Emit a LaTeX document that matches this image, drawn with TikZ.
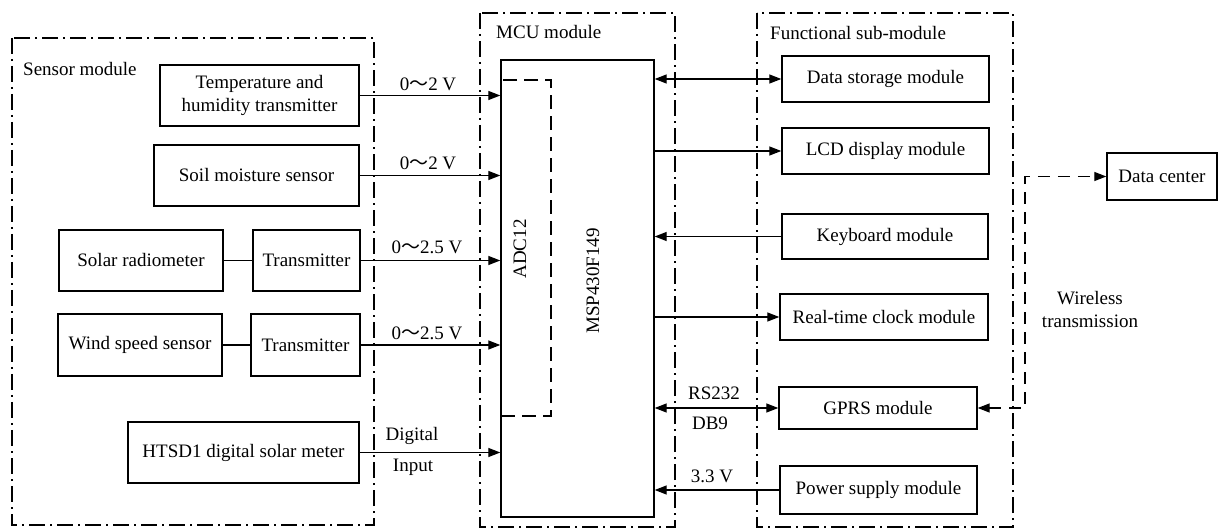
\documentclass[tikz,border=0pt]{standalone}
\usepackage{fontspec}
\setmainfont{Liberation Serif}
\newfontfamily\cjk{Noto Sans CJK SC}
\usetikzlibrary{arrows.meta}
\newcommand{\wv}{{\cjk ～}}
\begin{document}
\begin{tikzpicture}[x=1pt,y=-1pt,
  font=\fontsize{19}{23}\selectfont,
  box/.style={draw,line width=1.4pt,inner sep=0pt,align=center},
  frame/.style={line width=1.8pt,dash pattern=on 16pt off 5pt on 2pt off 5pt},
  conn/.style={line width=1.3pt},
  arr/.style={conn,-{Triangle[length=12pt,width=9pt]}},
  darr/.style={conn,{Triangle[length=12pt,width=9pt]}-{Triangle[length=12pt,width=9pt]}},
  lbl/.style={inner sep=0pt}]
\useasboundingbox (0,0) rectangle (1219,529);
% frames
\draw[frame] (12,38) rectangle (374,525);
\draw[frame] (480,13) rectangle (675,527);
\draw[frame] (757,13) rectangle (1013,527);
\node[lbl,anchor=west] (tsens) at (23,69) {Sensor module};
\node[lbl,anchor=west] (tmcu) at (496,32) {MCU module};
\node[lbl,anchor=west] (tfun) at (770,33) {Functional sub-module};
% sensor boxes
\node[box,minimum width=199pt,minimum height=61pt] (temp) at (259.5,95.5) {Temperature and\\humidity transmitter};
\node[box,minimum width=205pt,minimum height=61pt] (soil) at (256.5,175.5) {Soil moisture sensor};
\node[box,minimum width=164pt,minimum height=61pt] (solar) at (141,260.5) {Solar radiometer};
\node[box,minimum width=107pt,minimum height=61pt] (tr1) at (306.5,260.5) {Transmitter};
\node[box,minimum width=164pt,minimum height=62pt] (wind) at (140,345) {Wind speed sensor};
\node[box,minimum width=109pt,minimum height=62pt] (tr2) at (305.5,345) {Transmitter};
\node[box,minimum width=231pt,minimum height=61pt] (htsd) at (243.5,452.5) {HTSD1 digital solar meter};
% MCU
\node[box,minimum width=153pt,minimum height=457pt] (msp) at (577.5,288.5) {};
\node[draw,line width=1.4pt,dash pattern=on 14pt off 7pt,minimum width=50pt,minimum height=336pt,inner sep=0pt] (adc) at (526,248) {};
\node[lbl,rotate=90] (tadc) at (520,249) {ADC12};
\node[lbl,rotate=90] (tmsp) at (593,281) {MSP430F149};
% functional boxes
\node[box,minimum width=207pt,minimum height=46pt] (ds) at (885.5,79) {Data storage module};
\node[box,minimum width=207pt,minimum height=46pt] (lcd) at (885.5,151) {LCD display module};
\node[box,minimum width=206pt,minimum height=45pt] (kb) at (885,236.5) {Keyboard module};
\node[box,minimum width=208pt,minimum height=46pt] (rtc) at (884,317) {Real-time clock module};
\node[box,minimum width=198pt,minimum height=42pt] (gprs) at (878,408) {GPRS module};
\node[box,minimum width=197pt,minimum height=48pt] (pwr) at (878.5,490) {Power supply module};
\node[box,minimum width=110pt,minimum height=47pt] (dc) at (1162,176.5) {Data center};
% sensor connectors
\draw[conn] (solar.east) -- (tr1.west);
\draw[conn] (wind.east) -- (tr2.west);
\draw[arr] (temp.east) -- (temp.east -| msp.west);
\draw[arr] (soil.east) -- (soil.east -| msp.west);
\draw[arr] (tr1.east) -- (tr1.east -| msp.west);
\draw[arr] (tr2.east) -- (tr2.east -| msp.west);
\draw[arr] (htsd.east) -- (htsd.east -| msp.west);
\node[lbl] (l1) at (428,84) {0\wv2 V};
\node[lbl] (l2) at (428,163) {0\wv2 V};
\node[lbl] (l3) at (427,247) {0\wv2.5 V};
\node[lbl] (l4) at (427,333) {0\wv2.5 V};
\node[lbl] (l5) at (412,436) {Digital};
\node[lbl] (l6) at (413,467) {Input};
% functional connectors
\draw[darr] (msp.east |- ds.west) -- (ds.west);
\draw[arr] (msp.east |- lcd.west) -- (lcd.west);
\draw[arr] (kb.west) -- (kb.west -| msp.east);
\draw[arr] (msp.east |- rtc.west) -- (rtc.west);
\draw[darr] (msp.east |- gprs.west) -- (gprs.west);
\draw[arr] (pwr.west) -- (pwr.west -| msp.east);
\node[lbl] (l7) at (714,393) {RS232};
\node[lbl] (l8) at (710,423) {DB9};
\node[lbl] (l9) at (712,476) {3.3 V};
% wireless
\coordinate (w1) at (1025,408);
\coordinate (w2) at (1025,176.5);
\draw[conn,dash pattern=on 12pt off 8pt,{Triangle[length=12pt,width=9pt]}-{Triangle[length=12pt,width=9pt]}] (gprs.east) -- (w1) -- (w2) -- (dc.west);
\node[lbl,align=center] (lw) at (1090,310) {Wireless\\transmission};
\end{tikzpicture}
\end{document}
